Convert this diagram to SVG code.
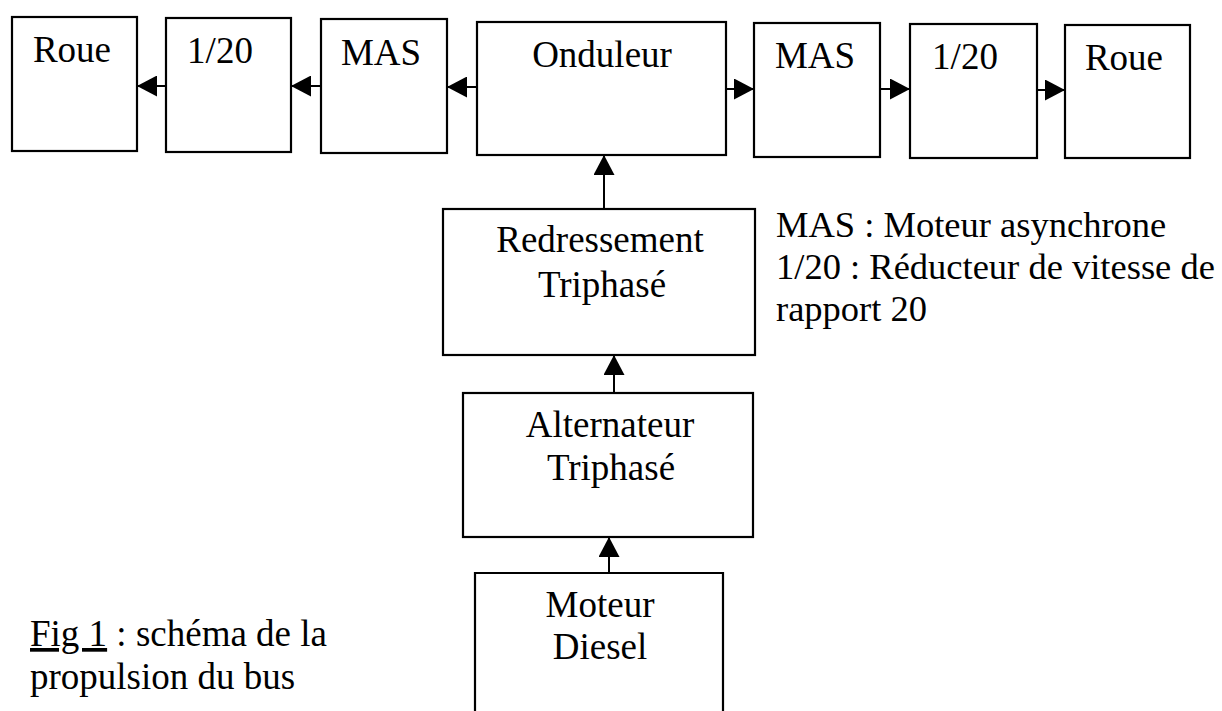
<svg xmlns="http://www.w3.org/2000/svg" width="1222" height="711" viewBox="0 0 1222 711">
<style>
.box{fill:#fff;stroke:#000;stroke-width:2.2}
.t{font-family:"Liberation Serif","Times New Roman",serif;font-size:37px;fill:#000}
.lg{font-size:36.5px}
.c{text-anchor:middle}
.ln{stroke:#000;stroke-width:2;fill:none;marker-end:url(#ah)}
</style>
<defs>
<marker id="ah" markerUnits="userSpaceOnUse" markerWidth="20" markerHeight="21" refX="20" refY="10.5" orient="auto">
<path d="M0,0 L20,10.5 L0,21 z" fill="#000"/>
</marker>
</defs>
<rect width="1222" height="711" fill="#fff"/>
<g id="connectors">
<line class="ln" x1="477" y1="87" x2="447" y2="87"/>
<line class="ln" x1="321" y1="86" x2="291" y2="86"/>
<line class="ln" x1="166" y1="86" x2="137" y2="86"/>
<line class="ln" x1="726" y1="89" x2="754" y2="89"/>
<line class="ln" x1="880" y1="89" x2="910" y2="89"/>
<line class="ln" x1="1037" y1="90" x2="1065" y2="90"/>
<line class="ln" x1="604" y1="209" x2="604" y2="155"/>
<line class="ln" x1="614" y1="393" x2="614" y2="355"/>
<line class="ln" x1="609" y1="573" x2="609" y2="537"/>
</g>
<g id="roue-left"><rect class="box" x="12" y="17" width="125" height="134"/><text class="t c" x="72" y="62">Roue</text></g>
<g id="red-left"><rect class="box" x="166" y="18" width="125" height="134"/><text class="t c" x="220" y="63">1/20</text></g>
<g id="mas-left"><rect class="box" x="321" y="19" width="126" height="134"/><text class="t c" x="381" y="65">MAS</text></g>
<g id="onduleur"><rect class="box" x="477" y="22" width="249" height="133"/><text class="t c" x="602" y="67">Onduleur</text></g>
<g id="mas-right"><rect class="box" x="754" y="23" width="126" height="134"/><text class="t c" x="815" y="68">MAS</text></g>
<g id="red-right"><rect class="box" x="910" y="24" width="127" height="134"/><text class="t c" x="965" y="69">1/20</text></g>
<g id="roue-right"><rect class="box" x="1065" y="25" width="125" height="133"/><text class="t c" x="1124" y="70">Roue</text></g>
<g id="redressement"><rect class="box" x="443" y="209" width="312" height="146"/><text class="t c" x="600" y="252">Redressement</text><text class="t c" x="602" y="297">Triphasé</text></g>
<g id="alternateur"><rect class="box" x="463" y="393" width="290" height="144"/><text class="t c" x="610" y="437">Alternateur</text><text class="t c" x="611" y="480">Triphasé</text></g>
<g id="diesel"><path class="box" d="M475,712 L475,573 L723,573 L723,712"/><text class="t c" x="600" y="617">Moteur</text><text class="t c" x="600" y="659">Diesel</text></g>
<g id="legend">
<text class="t lg" x="776" y="237">MAS : Moteur asynchrone</text>
<text class="t lg" x="776" y="279">1/20 : Réducteur de vitesse de</text>
<text class="t lg" x="776" y="321">rapport 20</text>
</g>
<g id="caption">
<text class="t" x="30" y="646"><tspan text-decoration="underline">Fig 1</tspan> : schéma de la</text>
<text class="t" x="30" y="689">propulsion du bus</text>
</g>
</svg>
